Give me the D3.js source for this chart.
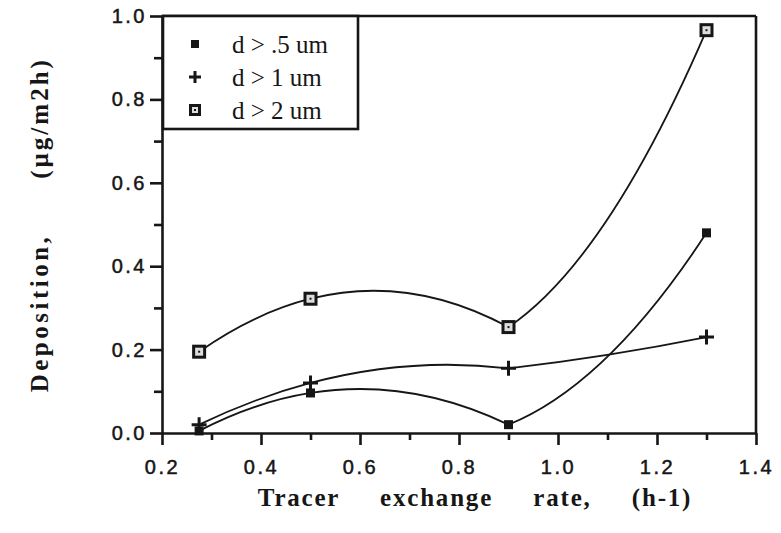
<!DOCTYPE html>
<html>
<head>
<meta charset="utf-8">
<script src="https://cdn.jsdelivr.net/npm/d3@7"></script>
<style>
  html, body { margin: 0; padding: 0; background: #fff; }
  svg { display: block; }
</style>
</head>
<body>
<svg id="chart" width="781" height="533"></svg>
<script>
// ---- data ----
const xRates = [0.275, 0.5, 0.9, 1.3];
const dep05 = [0.005, 0.096, 0.02, 0.48];
const dep1 = [0.02, 0.12, 0.155, 0.23];
const dep2 = [0.195, 0.322, 0.254, 0.966];
const seriesNames = ["d > .5 um", "d > 1 um", "d > 2 um"];
const xMajorTicks = [0.2, 0.4, 0.6, 0.8, 1.0, 1.2, 1.4];
const xMinorTicks = [0.3, 0.5, 0.7, 0.9, 1.1, 1.3];
const yMajorTicks = [0.0, 0.2, 0.4, 0.6, 0.8, 1.0];
const yMinorTicks = [0.1, 0.3, 0.5, 0.7, 0.9];
const xTitleWords = ["Tracer", "exchange", "rate,", "(h-1)"];
const yTitleWords = ["Deposition,", "(\u00b5g/m2h)"];

// ---- layout ----
const svg = d3.select("#chart");
const L = 162, R = 756, T = 16, B = 433;
const ink = "#161616";
const x = d3.scaleLinear().domain([0.2, 1.4]).range([L, R]);
const y = d3.scaleLinear().domain([0, 1]).range([B, T]);

// frame top/right
svg.append("line").attr("x1", L).attr("x2", R).attr("y1", T).attr("y2", T)
  .attr("stroke", ink).attr("stroke-width", 2.6);
svg.append("line").attr("x1", R).attr("x2", R).attr("y1", T).attr("y2", B)
  .attr("stroke", ink).attr("stroke-width", 2.6);

function styleAxis(g) {
  g.select(".domain").attr("stroke", ink).attr("stroke-width", 2.6);
  g.selectAll(".tick line").attr("stroke", ink).attr("stroke-width", 2.6);
  g.selectAll(".tick text").attr("fill", ink).attr("stroke", ink).attr("stroke-width", 0.5)
    .style("font-family", "'Liberation Sans', Arial, sans-serif")
    .style("font-size", "20px").style("letter-spacing", "2.5px");
}

// x axis
const gx = svg.append("g").attr("transform", `translate(0,${B})`)
  .call(d3.axisBottom(x).tickValues(xMajorTicks).tickSize(12).tickSizeOuter(0)
    .tickPadding(15).tickFormat(d3.format(".1f")));
styleAxis(gx);
gx.selectAll(".tick text").attr("dx", "0px");
const gxm = svg.append("g").attr("transform", `translate(0,${B})`)
  .call(d3.axisBottom(x).tickValues(xMinorTicks).tickSize(7).tickSizeOuter(0).tickFormat(""));
styleAxis(gxm);
gxm.select(".domain").remove();

// y axis
const gy = svg.append("g").attr("transform", `translate(${L},0)`)
  .call(d3.axisLeft(y).tickValues(yMajorTicks).tickSize(12).tickSizeOuter(0)
    .tickPadding(3).tickFormat(d3.format(".1f")));
styleAxis(gy);
const gym = svg.append("g").attr("transform", `translate(${L},0)`)
  .call(d3.axisLeft(y).tickValues(yMinorTicks).tickSize(8).tickSizeOuter(0).tickFormat(""));
styleAxis(gym);
gym.select(".domain").remove();

// curves: piecewise parabolic smoothing (quadratic through neighbouring triples)
function lagrange(p) {
  const [[x0, y0], [x1, y1], [x2, y2]] = p;
  return {
    d: t => y0 * ((t - x1) + (t - x2)) / ((x0 - x1) * (x0 - x2)) +
            y1 * ((t - x0) + (t - x2)) / ((x1 - x0) * (x1 - x2)) +
            y2 * ((t - x0) + (t - x1)) / ((x2 - x0) * (x2 - x1))
  };
}
function smoothPath(pts) {
  const n = pts.length;
  const p = d3.path();
  p.moveTo(x(pts[0][0]), y(pts[0][1]));
  for (let i = 0; i < n - 1; i++) {
    const s = Math.max(0, Math.min(i - 1, n - 3));
    const P = lagrange(pts.slice(s, s + 3));
    const [xa, ya] = pts[i], [xb, yb] = pts[i + 1];
    const h = xb - xa;
    const cx = xa + h / 2, cy = ya + P.d(xa) * h / 2;
    p.quadraticCurveTo(x(cx), y(cy), x(xb), y(yb));
  }
  return p.toString();
}
[dep05, dep1, dep2].forEach(vals => {
  svg.append("path").attr("d", smoothPath(xRates.map((v, i) => [v, vals[i]])))
    .attr("fill", "none").attr("stroke", ink).attr("stroke-width", 1.8);
});

// markers
function filledSquare(g, cx, cy, s) {
  g.append("rect").attr("x", cx - s / 2).attr("y", cy - s / 2).attr("width", s).attr("height", s)
    .attr("fill", ink);
}
function plusMark(g, cx, cy, s) {
  g.append("path").attr("d", `M${cx - s / 2},${cy}H${cx + s / 2}M${cx},${cy - s / 2}V${cy + s / 2}`)
    .attr("stroke", ink).attr("stroke-width", 3).attr("fill", "none");
}
function openSquare(g, cx, cy, s) {
  g.append("rect").attr("x", cx - s / 2 + 1.5).attr("y", cy - s / 2 + 1.5)
    .attr("width", s - 3).attr("height", s - 3)
    .attr("fill", "#ddd").attr("stroke", ink).attr("stroke-width", 3);
  g.append("rect").attr("x", cx - 1).attr("y", cy - 1).attr("width", 2).attr("height", 2).attr("fill", ink);
}
const marks = svg.append("g");
xRates.forEach((v, i) => {
  filledSquare(marks, x(v), y(dep05[i]), 9);
  plusMark(marks, x(v), y(dep1[i]), 15);
  openSquare(marks, x(v), y(dep2[i]), 14);
});

// legend
const lg = svg.append("g");
lg.append("rect").attr("x", 163).attr("y", T).attr("width", 195).attr("height", 113)
  .attr("fill", "#fff").attr("stroke", ink).attr("stroke-width", 2.6);
const legendRows = [44, 77, 110];
const markerFns = [(g, cx, cy) => filledSquare(g, cx, cy, 8),
                   (g, cx, cy) => plusMark(g, cx, cy, 12),
                   (g, cx, cy) => openSquare(g, cx, cy, 12)];
seriesNames.forEach((name, i) => {
  markerFns[i](lg, 195, legendRows[i]);
  lg.append("text").attr("x", 232).attr("y", legendRows[i] + 9)
    .attr("fill", ink)
    .style("font-family", "'Liberation Serif', 'Times New Roman', serif")
    .style("font-size", "25px").style("letter-spacing", "0px")
    .text(name);
});

// axis titles
const titleStyle = t => t.attr("fill", ink)
  .style("font-family", "'Liberation Serif', 'Times New Roman', serif")
  .style("font-weight", "bold").style("font-size", "25px").style("letter-spacing", "1.8px");
svg.append("text").attr("x", 475).attr("y", 506).attr("text-anchor", "middle").call(titleStyle)
  .style("white-space", "pre").text(xTitleWords.join("     "));
svg.append("text").attr("transform", "translate(48,313) rotate(-90)")
  .attr("text-anchor", "middle").call(titleStyle).style("letter-spacing", "3.5px")
  .text(yTitleWords[0]);
svg.append("text").attr("transform", "translate(48,118) rotate(-90)")
  .attr("text-anchor", "middle").call(titleStyle).style("letter-spacing", "3px")
  .text(yTitleWords[1]);
</script>
</body>
</html>
